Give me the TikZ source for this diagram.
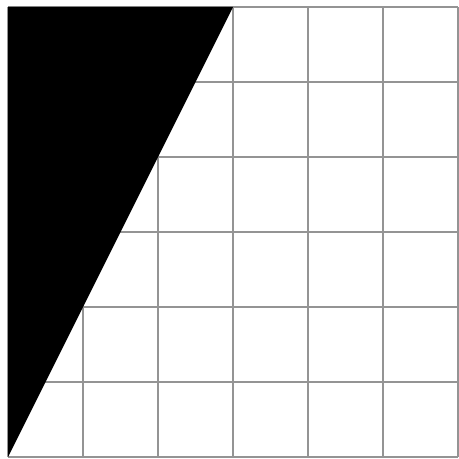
\documentclass[tikz,border=0pt]{standalone}
\usepackage{tikz}

\begin{document}
\begin{tikzpicture}[
    gridline/.style={draw=black!42, line width=0.8pt},
    shade/.style={fill=black}
]
% 边界
\useasboundingbox (-0.107,-0.027) rectangle (6.0,6.093);

% 网格
\draw[gridline] (0,0) grid (6,6);

% 黑色三角形
\fill[shade] (0,0) -- (0,6) -- (3,6) -- cycle;
\end{tikzpicture}
\end{document}
